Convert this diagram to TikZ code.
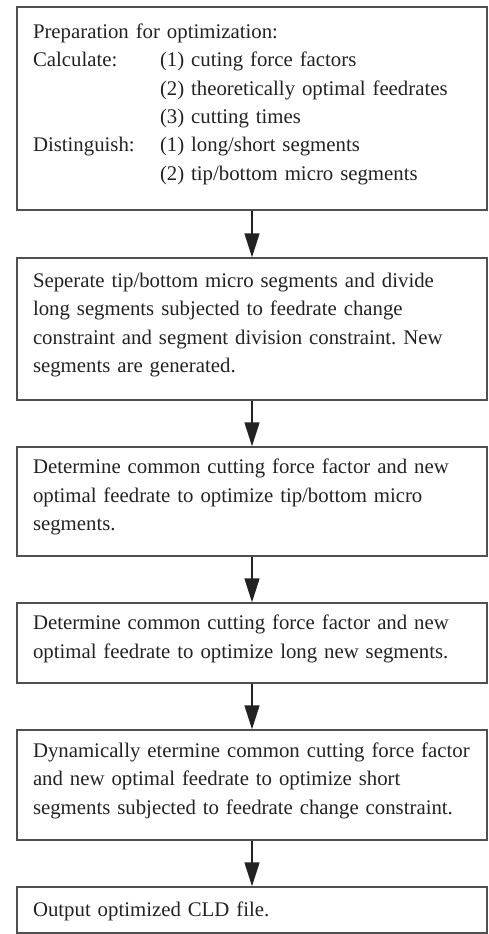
\documentclass[tikz,border=0pt]{standalone}
\usepackage{fontspec}
\setmainfont{Liberation Serif}
\usetikzlibrary{arrows.meta}
\definecolor{boxline}{HTML}{505050}
\definecolor{txt}{HTML}{222222}
\frenchspacing
\newcommand\myln[1]{\mbox{\rule[-13.4pt]{0pt}{28.4pt}#1}}
\newcommand\mylnlow[1]{\mbox{\rule[-7.4pt]{0pt}{28.4pt}#1}}
\newcommand\tabcol[1]{\makebox[127pt][l]{#1}}
\begin{document}
\begin{tikzpicture}[x=1pt,y=1pt,
  flowbox/.style={draw=boxline, line width=1.4pt, rectangle,
    minimum width=470pt, text width=438pt, inner xsep=16pt, inner ysep=0pt,
    align=left, text=txt, font=\fontsize{20.8}{28.4}\selectfont\frenchspacing},
  arr/.style={draw=txt, line width=1.4pt, -{Triangle[length=24pt,width=15pt]}}]
\useasboundingbox (0,0) rectangle (488,-934);
\node[flowbox, minimum height=203pt] (b1) at (252,-108.5)
  {\myln{Preparation for optimization:}\\
   \myln{\tabcol{Calculate:}(1) cuting force factors}\\
   \myln{\hspace*{127pt}(2) theoretically optimal feedrates}\\
   \myln{\hspace*{127pt}(3) cutting times}\\
   \myln{\tabcol{Distinguish:}(1) long/short segments}\\
   \myln{\hspace*{127pt}(2) tip/bottom micro segments}};
\node[flowbox, minimum height=142pt] (b2) at (252,-329)
  {\myln{Seperate tip/bottom micro segments and divide}\\
   \myln{long segments subjected to feedrate change}\\
   \myln{constraint and segment division constraint. New}\\
   \myln{segments are generated.}};
\node[flowbox, minimum height=109pt] (b3) at (252,-501.5)
  {\myln{Determine common cutting force factor and new}\\
   \myln{optimal feedrate to optimize tip/bottom micro}\\
   \myln{segments.}};
\node[flowbox, minimum height=80pt] (b4) at (252,-643)
  {\myln{Determine common cutting force factor and new}\\
   \myln{optimal feedrate to optimize long new segments.}};
\node[flowbox, minimum height=110pt] (b5) at (252,-785)
  {\myln{Dynamically etermine common cutting force factor}\\
   \myln{and new optimal feedrate to optimize short}\\
   \myln{segments subjected to feedrate change constraint.}};
\node[flowbox, minimum height=46pt] (b6) at (252,-910)
  {\mylnlow{Output optimized CLD file.}};
\draw[arr] (b1.south) -- (b2.north);
\draw[arr] (b2.south) -- (b3.north);
\draw[arr] (b3.south) -- (b4.north);
\draw[arr] (b4.south) -- (b5.north);
\draw[arr] (b5.south) -- (b6.north);
\end{tikzpicture}
\end{document}
